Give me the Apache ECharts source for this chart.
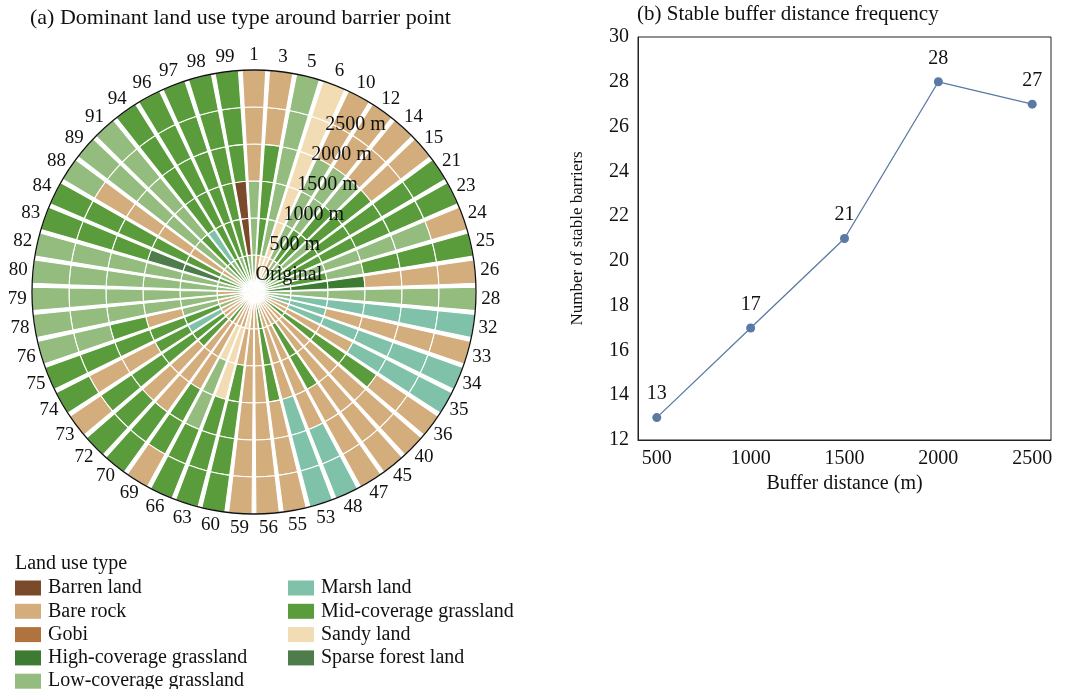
<!DOCTYPE html>
<html><head><meta charset="utf-8">
<script src="https://cdn.jsdelivr.net/npm/echarts@6/dist/echarts.min.js"></script>
<style>html,body{margin:0;padding:0;background:#fff}#c{width:1065px;height:689px}</style>
</head><body><div id="c"></div>
<script>
// ---------- data ----------
const categories = ['1','3','5','6','10','12','14','15','21','23','24','25','26','28','32','33','34','35','36','40','45','47','48','53','55','56','59','60','63','66','69','70','72','73','74','75','76','78','79','80','82','83','84','88','89','91','94','96','97','98','99'];
const ringLabels = ['Original','500 m','1000 m','1500 m','2000 m','2500 m'];
const landTypes = ['Barren land','Bare rock','Gobi','High-coverage grassland','Low-coverage grassland','Marsh land','Mid-coverage grassland','Sandy land','Sparse forest land'];
const typeCodes = ['BA','BR','GO','HG','LG','MA','MG','SL','SF'];

// dominant land-use code per barrier point, one list per buffer ring (order = categories)
const ring2500 = ['BR','BR','LG','SL','BR','BR','BR','BR','MG','MG','BR','MG','BR','LG','MA','BR','MA','MA','BR','BR','BR','BR','MA','MA','BR','BR','BR','MG','MG','MG','BR','MG','MG','BR','MG','MG','LG','LG','LG','LG','LG','MG','MG','LG','LG','LG','MG','MG','MG','MG','MG'];
const ring2000 = ['BR','BR','LG','SL','BR','BR','BR','BR','MG','MG','LG','MG','BR','LG','MA','BR','MA','MA','BR','BR','BR','BR','MA','MA','BR','BR','BR','MG','MG','MG','MG','MG','MG','MG','BR','MG','LG','LG','LG','LG','LG','MG','MG','BR','LG','LG','MG','MG','MG','MG','MG'];
const ring1500 = ['BR','MG','LG','SL','LG','LG','LG','MG','MG','MG','LG','MG','BR','LG','MA','BR','MA','MA','MG','BR','BR','BR','BR','MA','BR','BR','BR','MG','MG','LG','MG','BR','BR','MG','BR','MG','MG','LG','LG','LG','LG','MG','MG','BR','LG','LG','MG','MG','MG','MG','MG'];
const ring1000 = ['LG','MG','LG','SL','LG','LG','MG','MG','MG','MG','LG','LG','HG','LG','MA','BR','MA','BR','MG','BR','BR','MG','BR','BR','MG','BR','BR','MG','SL','LG','BR','BR','BR','MG','MG','MG','BR','LG','LG','LG','LG','SF','MG','BR','LG','LG','MG','MG','MG','MG','BA'];
const ring500  = ['LG','MG','LG','SL','LG','MG','MG','LG','MG','MG','LG','MG','HG','LG','MA','MA','MA','BR','MG','BR','BR','MG','BR','BR','MG','BR','BR','BR','SL','SL','BR','BR','MG','MG','MA','MG','LG','LG','LG','LG','LG','SF','MG','BR','LG','MG','MA','MG','MG','MG','BA'];
const ringOrig = ['LG','BR','SL','SL','BR','LG','LG','MG','MG','LG','MG','LG','HG','LG','LG','MA','BR','BR','MG','BR','BR','BR','BR','BR','MG','BR','BR','SL','BR','BR','BR','MG','BR','BR','BR','LG','BR','LG','BR','LG','LG','MG','LG','BR','LG','MG','LG','MG','LG','MG','LG'];

const bufferDistances = [500, 1000, 1500, 2000, 2500];
const stableBarriers = [13, 17, 21, 28, 27];

// ---------- styling ----------
const typeColors = {
  'Barren land':'#7a4a2b','Bare rock':'#d4ad7c','Gobi':'#b1733d','High-coverage grassland':'#3d7a32',
  'Low-coverage grassland':'#93bc7e','Marsh land':'#7fc1a9','Mid-coverage grassland':'#5a9b3b',
  'Sandy land':'#f2dcb4','Sparse forest land':'#4e7c4b'
};
const FONT = "'Liberation Serif','Times New Roman',serif";
const codeToType = c => landTypes[typeCodes.indexOf(c)];
const rings = [ringOrig, ring500, ring1000, ring1500, ring2000, ring2500];
const LABEL_RADIUS = 6.4;   // category labels centred just outside the outer ring (ring count = 6)

const ringSeries = rings.map((arr, i) => ({
  type: 'bar', coordinateSystem: 'polar', polarIndex: 0, name: ringLabels[i], stack: 'rings',
  barCategoryGap: '14%', silent: true,
  itemStyle: { borderColor: '#fff', borderWidth: 1.1 },
  data: arr.map(c => ({ value: 1, itemStyle: { color: typeColors[codeToType(c)] } }))
}));
const legendSeries = landTypes.map(t => ({
  type: 'bar', coordinateSystem: 'polar', polarIndex: 0, name: t, stack: 'rings', data: [],
  itemStyle: { color: typeColors[t] }
}));
// barrier-point id labels, centred on each sector's angle
const idLabelSeries = {
  type: 'scatter', coordinateSystem: 'polar', polarIndex: 0, clip: false, silent: true, z: 12,
  symbol: 'circle', symbolSize: 1, itemStyle: { color: 'rgba(0,0,0,0)', opacity: 1 },
  data: categories.map(c => [LABEL_RADIUS, c]),
  label: { show: true, position: 'inside', formatter: p => p.value[1], opacity: 1,
    fontFamily: FONT, fontSize: 19, color: '#111', textBorderWidth: 0 }
};

const legendBase = {
  orient: 'vertical', itemWidth: 26, itemHeight: 15, itemGap: 3.3, icon: 'rect', selectedMode: false,
  padding: 0, height: 140,
  textStyle: { fontFamily: FONT, fontSize: 20, color: '#111', lineHeight: 20, padding: [0, 0, 0, 2] }
};
const titleStyle = { fontFamily: FONT, fontSize: 21, fontWeight: 'normal', color: '#111' };

const chart = echarts.init(document.getElementById('c'));
chart.setOption({
  animation: false,
  backgroundColor: '#fff',
  title: [
    { text: '(a) Dominant land use type around barrier point', left: 30, top: 7, padding: 0,
      textStyle: Object.assign({}, titleStyle, { fontSize: 22 }) },
    { text: '(b) Stable buffer distance frequency', left: 637, top: 4, padding: 0, textStyle: titleStyle },
    { text: 'Land use type', left: 15, top: 554, padding: 0, textStyle: { fontFamily: FONT, fontSize: 20, fontWeight: 'normal', color: '#111' } }
  ],
  legend: [
    Object.assign({}, legendBase, { data: landTypes.slice(0, 5), left: 15, top: 578 }),
    Object.assign({}, legendBase, { data: landTypes.slice(5), left: 288, top: 578 })
  ],
  polar: [
    { center: [254, 292], radius: [0, 222] },
    { center: [254, 292], radius: [0, 198] }
  ],
  angleAxis: [
    { polarIndex: 0, type: 'category', data: categories, startAngle: 90 + 180 / categories.length, clockwise: true,
      boundaryGap: true, z: 10,
      axisLine: { lineStyle: { color: '#111', width: 1.3 } }, axisTick: { show: false }, splitLine: { show: false },
      axisLabel: { show: false } },
    { polarIndex: 1, type: 'value', startAngle: 65, show: false }
  ],
  radiusAxis: [
    { polarIndex: 0, type: 'value', min: 0, max: 6, show: false },
    { polarIndex: 1, type: 'category', data: ringLabels, z: 11,
      axisLine: { show: false }, axisTick: { show: false }, splitLine: { show: false },
      axisLabel: { interval: 0, inside: true, margin: 6, align: 'left', verticalAlign: 'middle', fontFamily: FONT, fontSize: 20, color: '#111' } }
  ],
  grid: { left: 638, top: 37, width: 413, height: 403, show: true, borderColor: '#222', borderWidth: 1 },
  xAxis: { type: 'value', min: 400, max: 2600,
    axisLine: { show: true, lineStyle: { color: '#222' } }, axisTick: { show: false }, splitLine: { show: false },
    axisLabel: { customValues: bufferDistances, formatter: v => String(v), margin: 9, fontFamily: FONT, fontSize: 20, color: '#111' },
    name: 'Buffer distance (m)', nameLocation: 'middle', nameGap: 31,
    nameTextStyle: { fontFamily: FONT, fontSize: 20, color: '#111' } },
  yAxis: { type: 'value', min: 12, max: 30, interval: 2,
    axisLine: { show: true, lineStyle: { color: '#222' } }, axisTick: { show: false }, splitLine: { show: false },
    axisLabel: { margin: 9, fontFamily: FONT, fontSize: 20, color: '#111' },
    name: 'Number of stable barriers', nameLocation: 'middle', nameGap: 52,
    nameTextStyle: { fontFamily: FONT, fontSize: 17, color: '#111' } },
  series: ringSeries.concat(legendSeries).concat([idLabelSeries, {
    type: 'line', xAxisIndex: 0, yAxisIndex: 0,
    data: bufferDistances.map((d, i) => [d, stableBarriers[i]]),
    color: '#5b79a5', lineStyle: { width: 1.3, color: '#5b79a5' },
    symbol: 'circle', symbolSize: 9, itemStyle: { color: '#5b79a5' },
    label: { show: true, position: 'top', distance: 9, fontFamily: FONT, fontSize: 20, color: '#111',
      formatter: p => p.value[1] }
  }])
});
</script></body></html>
